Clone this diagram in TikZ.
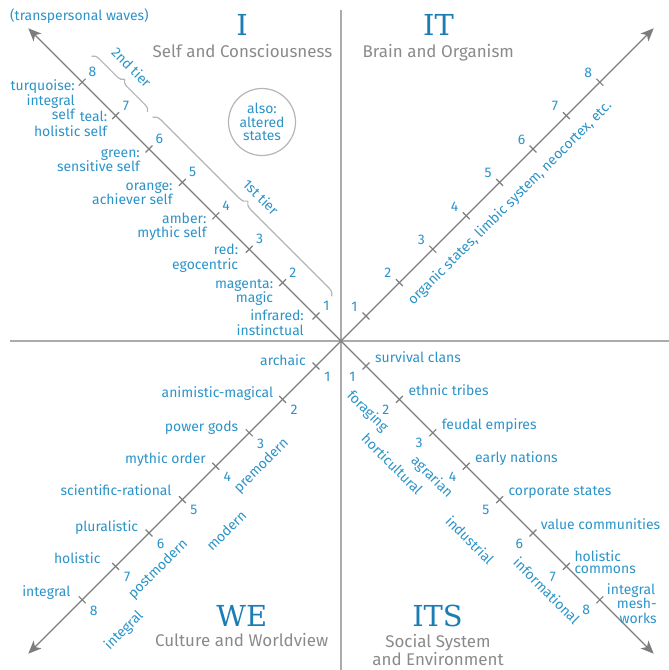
\documentclass[tikz,border=0pt]{standalone}
\usepackage{fontspec}
\setmainfont{Fira Sans}
\newfontfamily\slabfont{DejaVu Serif}
\usetikzlibrary{arrows.meta,decorations.pathreplacing,calc}
\definecolor{lblue}{HTML}{2B93C8}
\definecolor{tblue}{HTML}{1A7DB5}
\definecolor{axgray}{HTML}{7D7D7D}
\definecolor{divgray}{HTML}{ABABAB}
\definecolor{subgray}{HTML}{8A8A8A}
\definecolor{brgray}{HTML}{B5B5B5}
\newcommand\rlines[1]{\begin{tabular}[t]{@{}r@{}}#1\end{tabular}}
\newcommand\llines[1]{\begin{tabular}[t]{@{}l@{}}#1\end{tabular}}
\newcommand\clines[1]{\begin{tabular}[t]{@{}c@{}}#1\end{tabular}}
\tikzset{
  lab/.style={text=lblue, inner sep=0pt, font=\fontsize{14}{12.5}\selectfont},
  num/.style={lab},
  rot/.style={lab},
  title/.style={text=tblue, inner sep=0pt, anchor=base, font=\slabfont\fontsize{29}{29}\selectfont},
  sub/.style={text=subgray, inner sep=0pt, anchor=base, font=\fontsize{17}{19}\selectfont},
  axis/.style={draw=axgray, line width=1.3bp, -{Stealth[length=13bp,width=11bp,inset=3.5bp]}},
  divider/.style={draw=divgray, line width=1.5bp},
  tickmark/.style={draw=axgray, line width=1.2bp},
  bracegr/.style={draw=brgray, line width=1.2bp, decorate},
}
\begin{document}
\begin{tikzpicture}[x=1bp,y=-1bp]
\useasboundingbox (0,0) rectangle (669,670);
% dividers
\coordinate (hl) at (10,341); \coordinate (hr) at (669,341);
\coordinate (vt) at (341,10); \coordinate (vb) at (341,670);
\draw[divider] (hl) -- (hr);
\draw[divider] (vt) -- (vb);
% axes
\coordinate (C) at (341,341);
\coordinate (tipI) at (28.3,28.3);
\coordinate (tipIT) at (653.7,28.3);
\coordinate (tipWE) at (28.3,653.7);
\coordinate (tipITS) at (653.7,653.7);
\draw[axis] (C) -- (tipI);
\draw[axis] (C) -- (tipIT);
\draw[axis] (C) -- (tipWE);
\draw[axis] (C) -- (tipITS);
% ticks and numbers
\foreach \k in {1,...,8} {
  \pgfmathsetmacro\d{33.4*\k-8.4}
  \coordinate (I\k) at (341-\d,341-\d);
  \coordinate (IT\k) at (341+\d,341-\d);
  \coordinate (WE\k) at (341-\d,341+\d);
  \coordinate (ITS\k) at (341+\d,341+\d);
  \draw[tickmark] (I\k) ++(-3.4,3.4) -- ++(6.8,-6.8);
  \draw[tickmark] (ITS\k) ++(-3.4,3.4) -- ++(6.8,-6.8);
  \draw[tickmark] (IT\k) ++(-3.4,-3.4) -- ++(6.8,6.8);
  \draw[tickmark] (WE\k) ++(-3.4,-3.4) -- ++(6.8,6.8);
  \node[num] (nI\k) at ($(I\k)+(10.3,-10)$) {\k};
  \node[num] (nIT\k) at ($(IT\k)+(-11.5,-9.5)$) {\k};
  \node[num] (nWE\k) at ($(WE\k)+(11.5,10.7)$) {\k};
  \node[num] (nITS\k) at ($(ITS\k)+(-13.7,10.4)$) {\k};
}
% titles
\node[title] (tI) at (242,35.5) {I};
\node[title] (tIT) at (438.5,35.5) {IT};
\node[title] (tWE) at (241.7,626.7) {WE};
\node[title] (tITS) at (437.5,626.7) {ITS};
\node[sub] (sI) at (242.5,57.3) {Self and Consciousness};
\node[sub] (sIT) at (438.3,57.3) {Brain and Organism};
\node[sub] (sWE) at (241.7,646) {Culture and Worldview};
\node[sub] (sITS) at (438,647) {\clines{Social System\\and Environment}};
% top-left caption
\node[lab, anchor=base west] (trans) at (10,20.5) {(transpersonal waves)};
% quadrant I labels
\node[lab, anchor=base east] (q1-8) at (75,91) {\rlines{turquoise:\\integral\\self}};
\node[lab, anchor=base east] (q1-7) at (107.3,122) {\rlines{teal:\\holistic self}};
\node[lab, anchor=base east] (q1-6) at (140,157) {\rlines{green:\\sensitive self}};
\node[lab, anchor=base east] (q1-5) at (172.7,190) {\rlines{orange:\\achiever self}};
\node[lab, anchor=base east] (q1-4) at (206.7,223) {\rlines{amber:\\mythic self}};
\node[lab, anchor=base east] (q1-3) at (238.3,254.5) {\rlines{red:\\egocentric}};
\node[lab, anchor=base east] (q1-2) at (273.3,288) {\rlines{magenta:\\magic}};
\node[lab, anchor=base east] (q1-1) at (304,320.5) {\rlines{infrared:\\instinctual}};
% braces
\coordinate (b2s) at (91.7,56.3); \coordinate (b2e) at (147.7,112.3);
\coordinate (b1s) at (152.7,117.3); \coordinate (b1e) at (331.7,296.3);
\draw[bracegr, decoration={brace, amplitude=7bp}] (b2s) -- (b2e);
\draw[bracegr, decoration={brace, amplitude=8bp}] (b1s) -- (b1e);
\node[rot, rotate=-45] (tier2) at (131.7,67.3) {2nd tier};
\node[rot, rotate=-45] (tier1) at (261,197) {1st tier};
% altered states
\node[lab, circle, draw=brgray, line width=1.2bp, minimum size=67bp, align=center, font=\fontsize{14}{13.4}\selectfont] (alt) at (262,122) {also:\\altered\\states};
% IT
\node[rot, rotate=45] (organic) at (510,203.3) {organic states, limbic system, neocortex, etc.};
% WE labels
\node[lab, anchor=base east] (we1) at (306,365.5) {archaic};
\node[lab, anchor=base east] (we2) at (273.3,397.3) {animistic-magical};
\node[lab, anchor=base east] (we3) at (238.3,431.3) {power gods};
\node[lab, anchor=base east] (we4) at (206,463.3) {mythic order};
\node[lab, anchor=base east] (we5) at (171.7,495.7) {scientific-rational};
\node[lab, anchor=base east] (we6) at (138.3,531.7) {pluralistic};
\node[lab, anchor=base east] (we7) at (100.7,563.3) {holistic};
\node[lab, anchor=base east] (we8) at (70.7,596.3) {integral};
\node[rot, rotate=45] (premod) at (261.7,466) {premodern};
\node[rot, rotate=45] (mod) at (226.3,530.7) {modern};
\node[rot, rotate=45] (postmod) at (158.3,569.3) {postmodern};
\node[rot, rotate=45] (integ) at (124,630.7) {integral};
% ITS labels
\node[lab, anchor=base west] (its1) at (375,362.3) {survival clans};
\node[lab, anchor=base west] (its2) at (408.3,395.7) {ethnic tribes};
\node[lab, anchor=base west] (its3) at (441.7,429.7) {feudal empires};
\node[lab, anchor=base west] (its4) at (475,462.3) {early nations};
\node[lab, anchor=base west] (its5) at (508.3,495.7) {corporate states};
\node[lab, anchor=base west] (its6) at (540.7,529) {value communities};
\node[lab, anchor=base west] (its7) at (574.3,561.3) {\llines{holistic\\commons}};
\node[lab, anchor=base west] (its8) at (606.7,594.7) {\llines{integral\\\hspace*{10bp}mesh-\\\hspace*{12.6bp}works}};
\node[rot, rotate=-45] (forag) at (367.3,411.7) {foraging};
\node[rot, rotate=-45] (hort) at (392.3,464) {horticultural};
\node[rot, rotate=-45] (agr) at (431.7,477.3) {agrarian};
\node[rot, rotate=-45] (ind) at (470,540) {industrial};
\node[rot, rotate=-45] (info) at (546.7,590.7) {informational};
\end{tikzpicture}
\end{document}
